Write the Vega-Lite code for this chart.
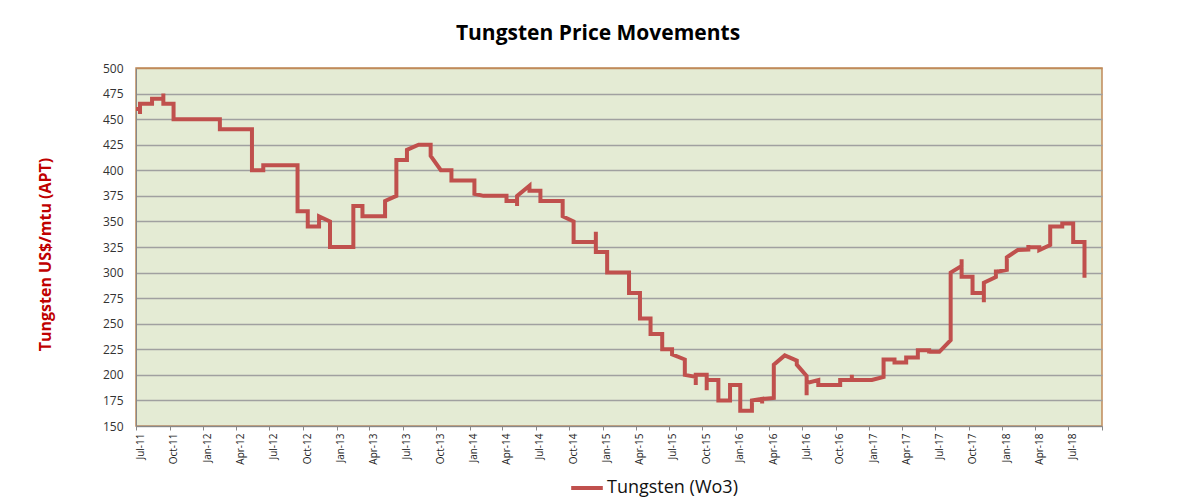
{
  "$schema": "https://vega.github.io/schema/vega-lite/v6.json",
  "width": 966,
  "height": 358,
  "autosize": "none",
  "padding": {"left": 136, "top": 68, "right": 75, "bottom": 75},
  "background": "white",
  "title": {"text": "Tungsten Price Movements", "font": "Open Sans", "fontSize": 21, "fontWeight": "bold", "color": "#000000", "anchor": "middle", "frame": "group", "dx": -21, "baseline": "alphabetic", "offset": 1},
  "config": {"view": {"stroke": "#C08A5A", "strokeWidth": 1.5, "fill": "#E4EBD4"}},
  "data": {"values": [
    {"i": 1, "d": "2011-07-01", "v": 460},
    {"i": 2, "d": "2011-07-12", "v": 460},
    {"i": 3, "d": "2011-07-12", "v": 455},
    {"i": 4, "d": "2011-07-12", "v": 465},
    {"i": 5, "d": "2011-08-14", "v": 465},
    {"i": 6, "d": "2011-08-14", "v": 470},
    {"i": 7, "d": "2011-09-14", "v": 470},
    {"i": 8, "d": "2011-09-14", "v": 475},
    {"i": 9, "d": "2011-09-14", "v": 465},
    {"i": 10, "d": "2011-10-12", "v": 465},
    {"i": 11, "d": "2011-10-12", "v": 450},
    {"i": 12, "d": "2012-02-16", "v": 450},
    {"i": 13, "d": "2012-02-16", "v": 440},
    {"i": 14, "d": "2012-05-14", "v": 440},
    {"i": 15, "d": "2012-05-14", "v": 400},
    {"i": 16, "d": "2012-06-14", "v": 400},
    {"i": 17, "d": "2012-06-14", "v": 405},
    {"i": 18, "d": "2012-09-16", "v": 405},
    {"i": 19, "d": "2012-09-16", "v": 360},
    {"i": 20, "d": "2012-10-14", "v": 360},
    {"i": 21, "d": "2012-10-14", "v": 345},
    {"i": 22, "d": "2012-11-14", "v": 345},
    {"i": 23, "d": "2012-11-14", "v": 355},
    {"i": 24, "d": "2012-12-14", "v": 350},
    {"i": 25, "d": "2012-12-14", "v": 325},
    {"i": 26, "d": "2013-02-16", "v": 325},
    {"i": 27, "d": "2013-02-16", "v": 365},
    {"i": 28, "d": "2013-03-13", "v": 365},
    {"i": 29, "d": "2013-03-13", "v": 355},
    {"i": 30, "d": "2013-05-14", "v": 355},
    {"i": 31, "d": "2013-05-14", "v": 370},
    {"i": 32, "d": "2013-06-14", "v": 375},
    {"i": 33, "d": "2013-06-14", "v": 410},
    {"i": 34, "d": "2013-07-13", "v": 410},
    {"i": 35, "d": "2013-07-13", "v": 420},
    {"i": 36, "d": "2013-08-14", "v": 425},
    {"i": 37, "d": "2013-09-16", "v": 425},
    {"i": 38, "d": "2013-09-16", "v": 414},
    {"i": 39, "d": "2013-10-14", "v": 400},
    {"i": 40, "d": "2013-11-12", "v": 400},
    {"i": 41, "d": "2013-11-12", "v": 390},
    {"i": 42, "d": "2014-01-14", "v": 390},
    {"i": 43, "d": "2014-01-14", "v": 377},
    {"i": 44, "d": "2014-02-08", "v": 375},
    {"i": 45, "d": "2014-04-12", "v": 375},
    {"i": 46, "d": "2014-04-12", "v": 370},
    {"i": 47, "d": "2014-05-11", "v": 370},
    {"i": 48, "d": "2014-05-11", "v": 365},
    {"i": 49, "d": "2014-05-11", "v": 375},
    {"i": 50, "d": "2014-06-14", "v": 385},
    {"i": 51, "d": "2014-06-14", "v": 380},
    {"i": 52, "d": "2014-07-14", "v": 380},
    {"i": 53, "d": "2014-07-14", "v": 370},
    {"i": 54, "d": "2014-09-13", "v": 370},
    {"i": 55, "d": "2014-09-13", "v": 355},
    {"i": 56, "d": "2014-10-13", "v": 350},
    {"i": 57, "d": "2014-10-13", "v": 330},
    {"i": 58, "d": "2014-12-13", "v": 330},
    {"i": 59, "d": "2014-12-13", "v": 340},
    {"i": 60, "d": "2014-12-13", "v": 320},
    {"i": 61, "d": "2015-01-13", "v": 320},
    {"i": 62, "d": "2015-01-13", "v": 300},
    {"i": 63, "d": "2015-03-14", "v": 300},
    {"i": 64, "d": "2015-03-14", "v": 280},
    {"i": 65, "d": "2015-04-13", "v": 280},
    {"i": 66, "d": "2015-04-13", "v": 255},
    {"i": 67, "d": "2015-05-12", "v": 255},
    {"i": 68, "d": "2015-05-12", "v": 240},
    {"i": 69, "d": "2015-06-13", "v": 240},
    {"i": 70, "d": "2015-06-13", "v": 225},
    {"i": 71, "d": "2015-07-10", "v": 225},
    {"i": 72, "d": "2015-07-10", "v": 220},
    {"i": 73, "d": "2015-08-14", "v": 215},
    {"i": 74, "d": "2015-08-14", "v": 200},
    {"i": 75, "d": "2015-09-13", "v": 198},
    {"i": 76, "d": "2015-09-13", "v": 190},
    {"i": 77, "d": "2015-09-13", "v": 200},
    {"i": 78, "d": "2015-10-13", "v": 200},
    {"i": 79, "d": "2015-10-13", "v": 185},
    {"i": 80, "d": "2015-10-13", "v": 195},
    {"i": 81, "d": "2015-11-14", "v": 195},
    {"i": 82, "d": "2015-11-14", "v": 175},
    {"i": 83, "d": "2015-12-16", "v": 175},
    {"i": 84, "d": "2015-12-16", "v": 190},
    {"i": 85, "d": "2016-01-13", "v": 190},
    {"i": 86, "d": "2016-01-13", "v": 165},
    {"i": 87, "d": "2016-02-14", "v": 165},
    {"i": 88, "d": "2016-02-14", "v": 175},
    {"i": 89, "d": "2016-03-13", "v": 176.5},
    {"i": 90, "d": "2016-03-13", "v": 172},
    {"i": 91, "d": "2016-03-13", "v": 176.5},
    {"i": 92, "d": "2016-04-14", "v": 177.5},
    {"i": 93, "d": "2016-04-14", "v": 210},
    {"i": 94, "d": "2016-05-14", "v": 219},
    {"i": 95, "d": "2016-06-16", "v": 214},
    {"i": 96, "d": "2016-06-16", "v": 210},
    {"i": 97, "d": "2016-07-13", "v": 199},
    {"i": 98, "d": "2016-07-13", "v": 180},
    {"i": 99, "d": "2016-07-13", "v": 192},
    {"i": 100, "d": "2016-08-14", "v": 195},
    {"i": 101, "d": "2016-08-14", "v": 190},
    {"i": 102, "d": "2016-10-13", "v": 190},
    {"i": 103, "d": "2016-10-13", "v": 195},
    {"i": 104, "d": "2016-11-14", "v": 195},
    {"i": 105, "d": "2016-11-14", "v": 200},
    {"i": 106, "d": "2016-11-14", "v": 195},
    {"i": 107, "d": "2017-01-08", "v": 195},
    {"i": 108, "d": "2017-02-09", "v": 198},
    {"i": 109, "d": "2017-02-09", "v": 215},
    {"i": 110, "d": "2017-03-11", "v": 215},
    {"i": 111, "d": "2017-03-11", "v": 212},
    {"i": 112, "d": "2017-04-12", "v": 212},
    {"i": 113, "d": "2017-04-12", "v": 217},
    {"i": 114, "d": "2017-05-14", "v": 217},
    {"i": 115, "d": "2017-05-14", "v": 224},
    {"i": 116, "d": "2017-06-14", "v": 224},
    {"i": 117, "d": "2017-06-14", "v": 221},
    {"i": 118, "d": "2017-06-14", "v": 222.5},
    {"i": 119, "d": "2017-07-12", "v": 222.5},
    {"i": 120, "d": "2017-08-12", "v": 234},
    {"i": 121, "d": "2017-08-12", "v": 300},
    {"i": 122, "d": "2017-09-11", "v": 306.5},
    {"i": 123, "d": "2017-09-11", "v": 313},
    {"i": 124, "d": "2017-09-11", "v": 296},
    {"i": 125, "d": "2017-10-11", "v": 296},
    {"i": 126, "d": "2017-10-11", "v": 280},
    {"i": 127, "d": "2017-11-11", "v": 280},
    {"i": 128, "d": "2017-11-11", "v": 271},
    {"i": 129, "d": "2017-11-11", "v": 290},
    {"i": 130, "d": "2017-12-14", "v": 295.6},
    {"i": 131, "d": "2017-12-14", "v": 303},
    {"i": 132, "d": "2017-12-14", "v": 300.5},
    {"i": 133, "d": "2018-01-13", "v": 302.7},
    {"i": 134, "d": "2018-01-13", "v": 315},
    {"i": 135, "d": "2018-02-12", "v": 322},
    {"i": 136, "d": "2018-03-13", "v": 322.5},
    {"i": 137, "d": "2018-03-13", "v": 327},
    {"i": 138, "d": "2018-03-13", "v": 324.7},
    {"i": 139, "d": "2018-04-12", "v": 324.7},
    {"i": 140, "d": "2018-04-12", "v": 322},
    {"i": 141, "d": "2018-05-12", "v": 327},
    {"i": 142, "d": "2018-05-12", "v": 345},
    {"i": 143, "d": "2018-06-14", "v": 345},
    {"i": 144, "d": "2018-06-14", "v": 350},
    {"i": 145, "d": "2018-06-14", "v": 348},
    {"i": 146, "d": "2018-07-14", "v": 348},
    {"i": 147, "d": "2018-07-14", "v": 330},
    {"i": 148, "d": "2018-08-14", "v": 330},
    {"i": 149, "d": "2018-08-14", "v": 295}
  ]},
  "mark": {"type": "line", "strokeWidth": 4},
  "encoding": {
    "x": {
      "field": "d", "type": "temporal",
      "scale": {"type": "utc", "domain": [{"year": 2011, "month": 7, "date": 1, "utc": true}, {"year": 2018, "month": 10, "date": 1, "utc": true}]},
      "axis": {
        "title": null,
        "values": [
          {"year": 2011, "month": 7, "date": 1, "utc": true}, {"year": 2011, "month": 10, "date": 1, "utc": true},
          {"year": 2012, "month": 1, "date": 1, "utc": true}, {"year": 2012, "month": 4, "date": 1, "utc": true}, {"year": 2012, "month": 7, "date": 1, "utc": true}, {"year": 2012, "month": 10, "date": 1, "utc": true},
          {"year": 2013, "month": 1, "date": 1, "utc": true}, {"year": 2013, "month": 4, "date": 1, "utc": true}, {"year": 2013, "month": 7, "date": 1, "utc": true}, {"year": 2013, "month": 10, "date": 1, "utc": true},
          {"year": 2014, "month": 1, "date": 1, "utc": true}, {"year": 2014, "month": 4, "date": 1, "utc": true}, {"year": 2014, "month": 7, "date": 1, "utc": true}, {"year": 2014, "month": 10, "date": 1, "utc": true},
          {"year": 2015, "month": 1, "date": 1, "utc": true}, {"year": 2015, "month": 4, "date": 1, "utc": true}, {"year": 2015, "month": 7, "date": 1, "utc": true}, {"year": 2015, "month": 10, "date": 1, "utc": true},
          {"year": 2016, "month": 1, "date": 1, "utc": true}, {"year": 2016, "month": 4, "date": 1, "utc": true}, {"year": 2016, "month": 7, "date": 1, "utc": true}, {"year": 2016, "month": 10, "date": 1, "utc": true},
          {"year": 2017, "month": 1, "date": 1, "utc": true}, {"year": 2017, "month": 4, "date": 1, "utc": true}, {"year": 2017, "month": 7, "date": 1, "utc": true}, {"year": 2017, "month": 10, "date": 1, "utc": true},
          {"year": 2018, "month": 1, "date": 1, "utc": true}, {"year": 2018, "month": 4, "date": 1, "utc": true}, {"year": 2018, "month": 7, "date": 1, "utc": true}, {"year": 2018, "month": 10, "date": 1, "utc": true}
        ],
        "format": "%b-%y",
        "labelExpr": "month(datum.value) === 9 && year(datum.value) === 2018 ? '' : datum.label",
        "labelAngle": -90,
        "labelFont": "Open Sans",
        "labelFontSize": 10,
        "labelColor": "#222222",
        "labelPadding": 3,
        "labelOffset": 4,
        "labelOverlap": false,
        "tickSize": 4,
        "tickColor": "#888888",
        "domainColor": "#888888",
        "grid": false
      }
    },
    "y": {
      "field": "v", "type": "quantitative",
      "scale": {"domain": [150, 500], "nice": false, "zero": false},
      "axis": {
        "values": [150, 175, 200, 225, 250, 275, 300, 325, 350, 375, 400, 425, 450, 475, 500],
        "title": "Tungsten US$/mtu (APT)",
        "titleColor": "#C00000",
        "titleFont": "Open Sans",
        "titleFontSize": 16,
        "titleFontWeight": "bold",
        "titleAngle": -90,
        "titleX": -91,
        "titleY": 186,
        "titleAlign": "center",
        "titleBaseline": "middle",
        "labelFont": "Open Sans",
        "labelFontSize": 12,
        "labelColor": "#333333",
        "labelPadding": 13,
        "ticks": false,
        "tickSize": 0,
        "domainColor": "#888888",
        "gridColor": {"condition": {"test": "datum.value === 500", "value": "#C08A5A"}, "value": "#A0A0A0"},
        "gridWidth": 1.3
      }
    },
    "color": {
      "datum": "Tungsten (Wo3)",
      "scale": {"range": ["#C0504D"]},
      "legend": {
        "title": null,
        "orient": "none",
        "legendX": 433,
        "legendY": 402,
        "symbolType": "stroke",
        "symbolSize": 1000,
        "symbolStrokeWidth": 4,
        "labelFont": "Open Sans",
        "labelFontSize": 18,
        "labelColor": "#111111",
        "labelOffset": 2
      }
    },
    "order": {"field": "i", "type": "quantitative"}
  }
}
